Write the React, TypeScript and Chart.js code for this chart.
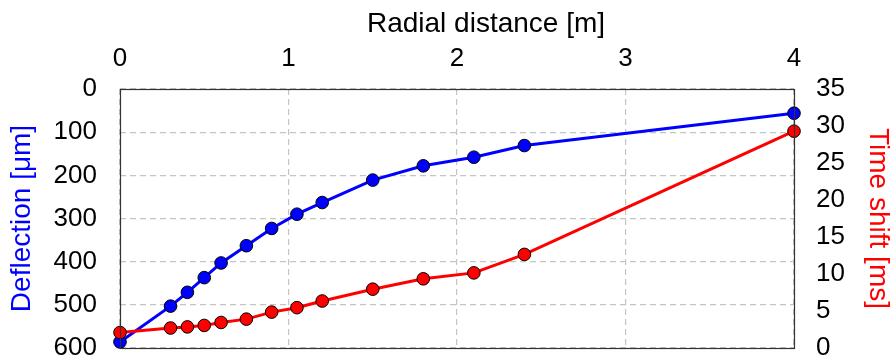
import React, { useEffect, useRef } from "react";
import { Chart, registerables } from "chart.js";

Chart.register(...registerables);

// Radial distance [m]
const radialDistance = [0, 0.3, 0.4, 0.5, 0.6, 0.75, 0.9, 1.05, 1.2, 1.5, 1.8, 2.1, 2.4, 4];
// Deflection [μm]
const deflection = [586, 503, 471, 437, 403, 363, 323, 290, 263, 211, 178, 158, 131, 56];
// Time shift [ms]
const timeShift = [2.1, 2.7, 2.85, 3.05, 3.45, 3.9, 4.85, 5.45, 6.35, 7.95, 9.35, 10.15, 12.65, 29.3];

const xTitle = "Radial distance [m]";
const leftTitle = "Deflection [μm]";
const rightTitle = "Time shift [ms]";

const FONT = "'Liberation Sans', Arial, sans-serif";

const framePlugin = {
  id: "frame",
  afterDatasetsDraw(chart: any) {
    const { ctx, chartArea } = chart;
    ctx.save();
    ctx.strokeStyle = "#333333";
    ctx.lineWidth = 1.2;
    ctx.setLineDash([]);
    ctx.strokeRect(
      chartArea.left + 0.5,
      chartArea.top + 0.5,
      chartArea.right - chartArea.left,
      chartArea.bottom - chartArea.top
    );
    ctx.restore();
  },
};

// Top axis title, drawn slightly right of the plot centre as in the reference
const xTitlePlugin = {
  id: "xTitle",
  afterDraw(chart: any) {
    const { ctx, chartArea } = chart;
    ctx.save();
    ctx.font = `28px ${FONT}`;
    ctx.fillStyle = "#000";
    ctx.textAlign = "center";
    ctx.textBaseline = "middle";
    const cx = (chartArea.left + chartArea.right) / 2 + 29;
    ctx.fillText(xTitle, cx, 24);
    ctx.restore();
  },
};

export default function App() {
  const canvasRef = useRef<HTMLCanvasElement | null>(null);

  useEffect(() => {
    const canvas = canvasRef.current;
    if (!canvas) return;
    const tickFont = { family: FONT, size: 26 };
    const titleFont = { family: FONT, size: 28 };
    const noVPad = (s: any) => {
      s.paddingTop = 0;
      s.paddingBottom = 0;
    };
    const chart = new Chart(canvas, {
      type: "scatter",
      data: {
        datasets: [
          {
            label: rightTitle,
            data: radialDistance.map((x, i) => ({ x, y: timeShift[i] })),
            yAxisID: "y2",
            showLine: true,
            borderColor: "#ff0000",
            backgroundColor: "#ff0000",
            pointBackgroundColor: "#ff0000",
            pointBorderColor: "#000000",
            pointBorderWidth: 1,
            pointRadius: 6.3,
            borderWidth: 3,
            tension: 0,
            clip: false,
          } as any,
          {
            label: leftTitle,
            data: radialDistance.map((x, i) => ({ x, y: deflection[i] })),
            yAxisID: "y",
            showLine: true,
            borderColor: "#0000ff",
            backgroundColor: "#0000ff",
            pointBackgroundColor: "#0000ff",
            pointBorderColor: "#000000",
            pointBorderWidth: 1,
            pointRadius: 6.3,
            borderWidth: 3,
            tension: 0,
            clip: false,
          } as any,
        ],
      },
      options: {
        responsive: false,
        animation: false,
        devicePixelRatio: 1,
        layout: { padding: { left: 0, right: 0, top: 0, bottom: 13 } },
        plugins: {
          legend: { display: false },
          tooltip: { enabled: false },
        },
        scales: {
          x: {
            type: "linear",
            position: "top",
            min: 0,
            max: 4,
            ticks: { stepSize: 1, font: tickFont, color: "#000", padding: 15, autoSkip: false },
            grid: { color: "#c4c4c4", lineWidth: 1.2, drawTicks: false },
            border: { display: false, dash: [6, 4] },
            title: { display: false },
            afterFit: (s: any) => {
              s.height = 89;
              s.paddingLeft = 0;
              s.paddingRight = 0;
            },
          },
          y: {
            type: "linear",
            position: "left",
            reverse: true,
            min: 0,
            max: 600,
            ticks: { stepSize: 100, font: tickFont, color: "#000", padding: 23, autoSkip: false },
            grid: { color: "#c4c4c4", lineWidth: 1.2, drawTicks: false },
            border: { display: false, dash: [6, 4] },
            title: {
              display: true,
              text: leftTitle,
              color: "#0000ff",
              font: titleFont,
              padding: { top: 5, bottom: 0 },
            },
            afterFit: (s: any) => {
              s.width = 120;
              noVPad(s);
            },
          },
          y2: {
            type: "linear",
            position: "right",
            min: 0,
            max: 35,
            ticks: { stepSize: 5, font: tickFont, color: "#000", padding: 22, autoSkip: false },
            grid: { drawOnChartArea: false, drawTicks: false },
            border: { display: false },
            title: {
              display: true,
              text: rightTitle,
              color: "#ff0000",
              font: titleFont,
              padding: { top: 0, bottom: 0 },
            },
            afterFit: (s: any) => {
              s.width = 101;
              noVPad(s);
            },
          },
        },
      } as any,
      plugins: [framePlugin, xTitlePlugin],
    });
    return () => chart.destroy();
  }, []);

  return (
    <div
      style={{
        position: "fixed",
        left: 0,
        top: 0,
        width: 895,
        height: 361,
        background: "#ffffff",
      }}
    >
      <canvas ref={canvasRef} width={895} height={361} />
    </div>
  );
}
